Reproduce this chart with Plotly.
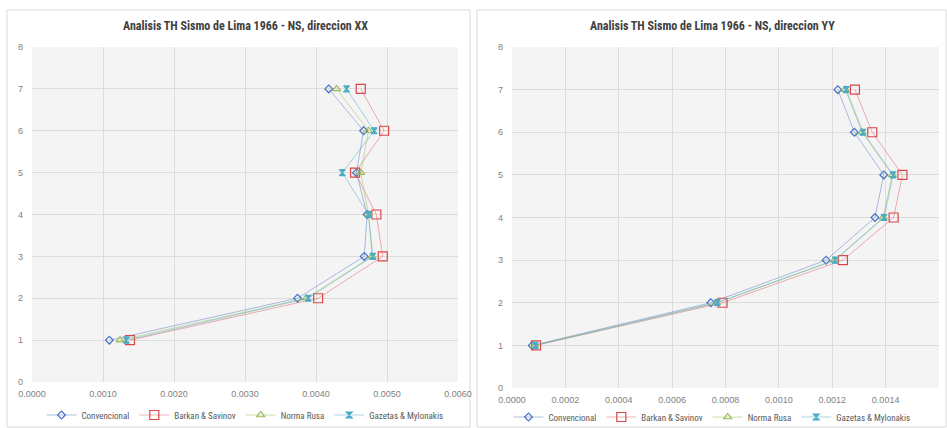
import plotly.graph_objects as go

# ---------------- data ----------------
levels = [1, 2, 3, 4, 5, 6, 7]
series_names = ["Convencional", "Barkan & Savinov", "Norma Rusa", "Gazetas & Mylonakis"]

# Direccion XX
xx_convencional = [0.00109, 0.00374, 0.00468, 0.00472, 0.00457, 0.00467, 0.00418]
xx_barkan = [0.00138, 0.00403, 0.00494, 0.00485, 0.00455, 0.00496, 0.00463]
xx_norma = [0.00124, 0.00386, 0.00479, 0.00474, 0.00463, 0.00474, 0.00429]
xx_gazetas = [0.00133, 0.00389, 0.00480, 0.00474, 0.00437, 0.00482, 0.00443]

# Direccion YY
yy_convencional = [0.000076, 0.000745, 0.001177, 0.001360, 0.001393, 0.001283, 0.001221]
yy_barkan = [0.000090, 0.000789, 0.001240, 0.001430, 0.001463, 0.001350, 0.001285]
yy_norma = [0.000085, 0.000766, 0.001208, 0.001391, 0.001425, 0.001312, 0.001249]
yy_gazetas = [0.000087, 0.000769, 0.001211, 0.001394, 0.001428, 0.001315, 0.001252]

title_xx = "Analisis TH Sismo de Lima 1966 - NS, direccion XX"
title_yy = "Analisis TH Sismo de Lima 1966 - NS, direccion YY"

# ---------------- styles ----------------
line_colors = ["rgba(68,114,196,0.45)", "rgba(224,80,80,0.45)",
               "rgba(155,187,89,0.5)", "rgba(75,172,198,0.5)"]
marker_colors = ["#4472C4", "#D9474B", "#9BBB59", "#4BACC6"]
symbols = ["diamond-open", "square-open", "triangle-up-open", "hourglass"]
sizes = [6, 9, 7, 6]

W, H = 947, 428
fig = go.Figure()

def add_series(xvals_list, xa, ya, legend):
    for i, (name, xv) in enumerate(zip(series_names, xvals_list)):
        fig.add_trace(go.Scatter(
            x=xv, y=levels, mode="lines+markers", name=name,
            xaxis=xa, yaxis=ya, legend=legend,
            line=dict(color=line_colors[i], width=1),
            marker=dict(symbol=symbols[i], size=sizes[i], color=marker_colors[i],
                        line=dict(color=marker_colors[i], width=1.2)),
        ))

add_series([xx_convencional, xx_barkan, xx_norma, xx_gazetas], "x", "y", "legend")
add_series([yy_convencional, yy_barkan, yy_norma, yy_gazetas], "x2", "y2", "legend2")

tickfont = dict(family="Liberation Sans, Arial, sans-serif", size=9, color="#7f7f7f")
axis_common = dict(showgrid=True, gridcolor="#dcdcdc", gridwidth=1, zeroline=False,
                   showline=False, ticks="", tickfont=tickfont, automargin=False)

cond_family = "Liberation Sans Narrow, Roboto Condensed, Arial Narrow, Roboto, sans-serif"
legend_font = dict(family=cond_family, size=9, color="#595959")

def px_x(p):
    return p / W

def px_y(p):
    return 1 - p / H

fig.update_layout(
    width=W, height=H,
    margin=dict(l=0, r=0, t=0, b=0, pad=0, autoexpand=False),
    paper_bgcolor="white",
    plot_bgcolor="#f4f4f4",
    showlegend=True,
    xaxis=dict(domain=[px_x(32), px_x(458)], range=[0, 0.006], dtick=0.001,
               tickformat=".4f", anchor="y", ticklabelstandoff=5, **axis_common),
    yaxis=dict(domain=[px_y(382), px_y(47)], range=[0, 8], dtick=1,
               anchor="x", ticklabelstandoff=8, **axis_common),
    xaxis2=dict(domain=[px_x(512), px_x(939)], range=[0, 0.0016], dtick=0.0002,
                tickformat=".4f", anchor="y2", ticklabelstandoff=5, **axis_common),
    yaxis2=dict(domain=[px_y(388), px_y(47)], range=[0, 8], dtick=1,
                anchor="x2", ticklabelstandoff=8, **axis_common),
    legend=dict(orientation="h", x=px_x(245), xanchor="center", y=px_y(415), yanchor="middle",
                font=legend_font, bgcolor="rgba(0,0,0,0)", itemwidth=30),
    legend2=dict(orientation="h", x=px_x(712), xanchor="center", y=px_y(417), yanchor="middle",
                 font=legend_font, bgcolor="rgba(0,0,0,0)", itemwidth=30),
    shapes=[
        dict(type="rect", xref="paper", yref="paper", x0=px_x(7), x1=px_x(470),
             y0=px_y(427), y1=px_y(10), line=dict(color="#d9d9d9", width=1),
             fillcolor="rgba(0,0,0,0)", layer="below"),
        dict(type="rect", xref="paper", yref="paper", x0=px_x(477), x1=px_x(946),
             y0=px_y(427), y1=px_y(10), line=dict(color="#d9d9d9", width=1),
             fillcolor="rgba(0,0,0,0)", layer="below"),
    ],
    annotations=[
        dict(text="<b>" + title_xx + "</b>", xref="paper", yref="paper",
             x=px_x(245), y=px_y(26), xanchor="center", yanchor="middle", showarrow=False,
             font=dict(family=cond_family, size=12, color="#404040")),
        dict(text="<b>" + title_yy + "</b>", xref="paper", yref="paper",
             x=px_x(712), y=px_y(26), xanchor="center", yanchor="middle", showarrow=False,
             font=dict(family=cond_family, size=12, color="#404040")),
    ],
)

fig.write_html("out.html",
               config={"displayModeBar": False},
               post_script="document.body.style.margin='0';document.body.style.overflow='hidden';")
